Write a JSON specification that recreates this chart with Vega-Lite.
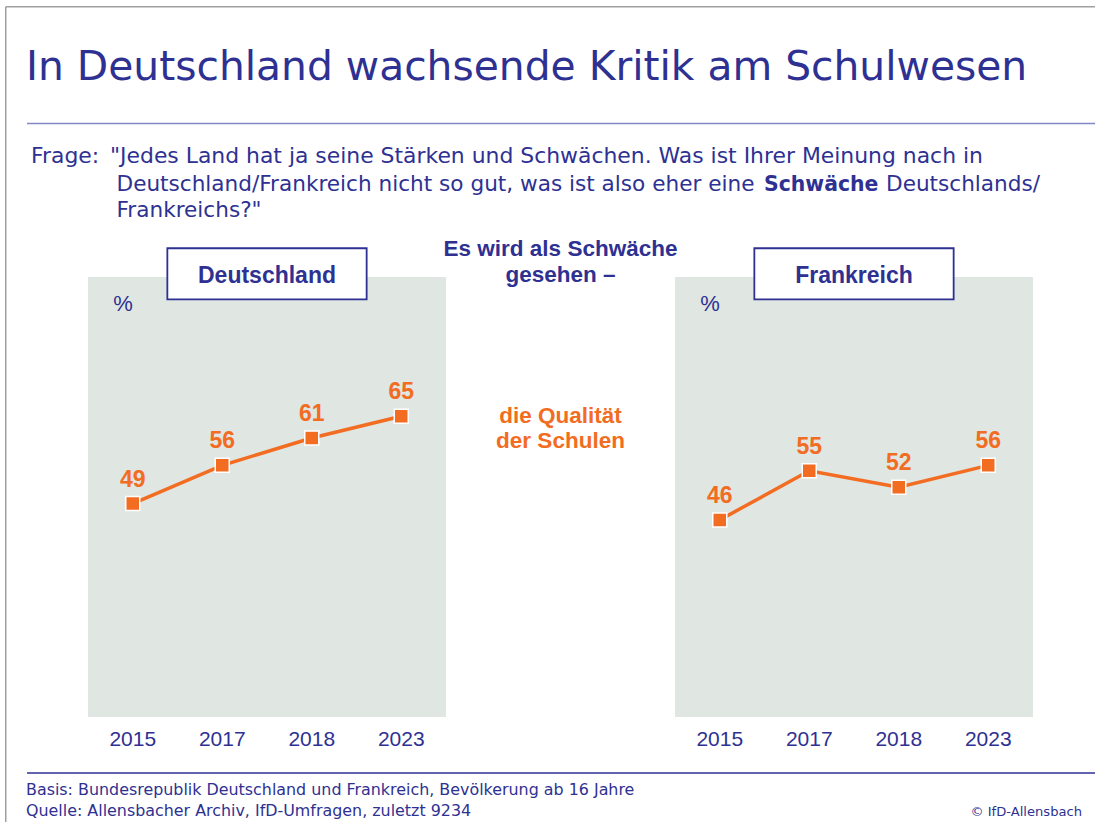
{
  "$schema": "https://vega.github.io/schema/vega-lite/v6.json",
  "background": "white",
  "padding": {"left": 5, "top": 6, "right": 0, "bottom": 0},
  "bounds": "flush",
  "spacing": 0,
  "config": {"view": {"stroke": null}, "font": "Liberation Sans"},
  "datasets": {
    "survey": [
      {"country": "Deutschland", "year": "2015", "value": 49},
      {"country": "Deutschland", "year": "2017", "value": 56},
      {"country": "Deutschland", "year": "2018", "value": 61},
      {"country": "Deutschland", "year": "2023", "value": 65},
      {"country": "Frankreich", "year": "2015", "value": 46},
      {"country": "Frankreich", "year": "2017", "value": 55},
      {"country": "Frankreich", "year": "2018", "value": 52},
      {"country": "Frankreich", "year": "2023", "value": 56}
    ]
  },
  "hconcat": [
    {
      "width": 83,
      "height": 816,
      "data": {"values": [{}]},
      "layer": [
        {
          "mark": {"type": "rule", "color": "#A0A0A0", "strokeWidth": 1.5},
          "encoding": {
            "x": {"datum": 5.75, "type": "quantitative", "scale": {"domain": [5, 88], "nice": false, "zero": false}, "axis": null},
            "x2": {"datum": 1095},
            "y": {"datum": 6.75, "type": "quantitative", "scale": {"domain": [6, 822], "nice": false, "zero": false, "reverse": true}, "axis": null}
          }
        },
        {
          "mark": {"type": "rule", "color": "#A0A0A0", "strokeWidth": 1.5},
          "encoding": {
            "x": {"datum": 5.75, "type": "quantitative", "scale": {"domain": [5, 88], "nice": false, "zero": false}, "axis": null},
            "y": {"datum": 6.75, "type": "quantitative", "scale": {"domain": [6, 822], "nice": false, "zero": false, "reverse": true}, "axis": null},
            "y2": {"datum": 822}
          }
        },
        {
          "mark": {"type": "text", "text": "In Deutschland wachsende Kritik am Schulwesen", "align": "left", "baseline": "alphabetic", "font": "DejaVu Sans", "fontSize": 40.8, "color": "#2E3192"},
          "encoding": {
            "x": {"datum": 26, "type": "quantitative", "scale": {"domain": [5, 88], "nice": false, "zero": false}, "axis": null},
            "y": {"datum": 79.5, "type": "quantitative", "scale": {"domain": [6, 822], "nice": false, "zero": false, "reverse": true}, "axis": null}
          }
        },
        {
          "mark": {"type": "rule", "color": "#8487C6", "strokeWidth": 1.5},
          "encoding": {
            "x": {"datum": 27, "type": "quantitative", "scale": {"domain": [5, 88], "nice": false, "zero": false}, "axis": null},
            "x2": {"datum": 1095},
            "y": {"datum": 123.5, "type": "quantitative", "scale": {"domain": [6, 822], "nice": false, "zero": false, "reverse": true}, "axis": null}
          }
        },
        {
          "mark": {"type": "text", "text": "Frage:", "align": "left", "baseline": "alphabetic", "font": "DejaVu Sans", "fontSize": 21.9, "color": "#2E3192"},
          "encoding": {
            "x": {"datum": 31, "type": "quantitative", "scale": {"domain": [5, 88], "nice": false, "zero": false}, "axis": null},
            "y": {"datum": 163, "type": "quantitative", "scale": {"domain": [6, 822], "nice": false, "zero": false, "reverse": true}, "axis": null}
          }
        },
        {
          "mark": {"type": "text", "text": "\"Jedes Land hat ja seine Stärken und Schwächen. Was ist Ihrer Meinung nach in", "align": "left", "baseline": "alphabetic", "font": "DejaVu Sans", "fontSize": 21.9, "color": "#2E3192"},
          "encoding": {
            "x": {"datum": 110, "type": "quantitative", "scale": {"domain": [5, 88], "nice": false, "zero": false}, "axis": null},
            "y": {"datum": 163, "type": "quantitative", "scale": {"domain": [6, 822], "nice": false, "zero": false, "reverse": true}, "axis": null}
          }
        },
        {
          "mark": {"type": "text", "text": "Deutschland/Frankreich nicht so gut, was ist also eher eine", "align": "left", "baseline": "alphabetic", "font": "DejaVu Sans", "fontSize": 21.6, "color": "#2E3192"},
          "encoding": {
            "x": {"datum": 116.5, "type": "quantitative", "scale": {"domain": [5, 88], "nice": false, "zero": false}, "axis": null},
            "y": {"datum": 190.5, "type": "quantitative", "scale": {"domain": [6, 822], "nice": false, "zero": false, "reverse": true}, "axis": null}
          }
        },
        {
          "mark": {"type": "text", "text": "Schwäche", "align": "left", "baseline": "alphabetic", "font": "DejaVu Sans", "fontWeight": "bold", "fontSize": 20.4, "color": "#2E3192"},
          "encoding": {
            "x": {"datum": 764, "type": "quantitative", "scale": {"domain": [5, 88], "nice": false, "zero": false}, "axis": null},
            "y": {"datum": 190.5, "type": "quantitative", "scale": {"domain": [6, 822], "nice": false, "zero": false, "reverse": true}, "axis": null}
          }
        },
        {
          "mark": {"type": "text", "text": "Deutschlands/", "align": "left", "baseline": "alphabetic", "font": "DejaVu Sans", "fontSize": 21.6, "color": "#2E3192"},
          "encoding": {
            "x": {"datum": 886, "type": "quantitative", "scale": {"domain": [5, 88], "nice": false, "zero": false}, "axis": null},
            "y": {"datum": 190.5, "type": "quantitative", "scale": {"domain": [6, 822], "nice": false, "zero": false, "reverse": true}, "axis": null}
          }
        },
        {
          "mark": {"type": "text", "text": "Frankreichs?\"", "align": "left", "baseline": "alphabetic", "font": "DejaVu Sans", "fontSize": 21.6, "color": "#2E3192"},
          "encoding": {
            "x": {"datum": 116.5, "type": "quantitative", "scale": {"domain": [5, 88], "nice": false, "zero": false}, "axis": null},
            "y": {"datum": 217, "type": "quantitative", "scale": {"domain": [6, 822], "nice": false, "zero": false, "reverse": true}, "axis": null}
          }
        },
        {
          "mark": {"type": "rule", "color": "#2E3192", "strokeWidth": 1.5},
          "encoding": {
            "x": {"datum": 27, "type": "quantitative", "scale": {"domain": [5, 88], "nice": false, "zero": false}, "axis": null},
            "x2": {"datum": 1095},
            "y": {"datum": 773, "type": "quantitative", "scale": {"domain": [6, 822], "nice": false, "zero": false, "reverse": true}, "axis": null}
          }
        },
        {
          "mark": {"type": "text", "text": "Basis: Bundesrepublik Deutschland und Frankreich, Bevölkerung ab 16 Jahre", "align": "left", "baseline": "alphabetic", "font": "DejaVu Sans", "fontSize": 15.9, "color": "#2E3192"},
          "encoding": {
            "x": {"datum": 26, "type": "quantitative", "scale": {"domain": [5, 88], "nice": false, "zero": false}, "axis": null},
            "y": {"datum": 795, "type": "quantitative", "scale": {"domain": [6, 822], "nice": false, "zero": false, "reverse": true}, "axis": null}
          }
        },
        {
          "mark": {"type": "text", "text": "Quelle: Allensbacher Archiv, IfD-Umfragen, zuletzt 9234", "align": "left", "baseline": "alphabetic", "font": "DejaVu Sans", "fontSize": 15.9, "color": "#2E3192"},
          "encoding": {
            "x": {"datum": 26, "type": "quantitative", "scale": {"domain": [5, 88], "nice": false, "zero": false}, "axis": null},
            "y": {"datum": 816, "type": "quantitative", "scale": {"domain": [6, 822], "nice": false, "zero": false, "reverse": true}, "axis": null}
          }
        },
        {
          "mark": {"type": "text", "text": "© IfD-Allensbach", "align": "right", "baseline": "alphabetic", "font": "DejaVu Sans", "fontSize": 13.1, "color": "#2E3192"},
          "encoding": {
            "x": {"datum": 1082, "type": "quantitative", "scale": {"domain": [5, 88], "nice": false, "zero": false}, "axis": null},
            "y": {"datum": 816, "type": "quantitative", "scale": {"domain": [6, 822], "nice": false, "zero": false, "reverse": true}, "axis": null}
          }
        }
      ]
    },
    {
      "width": 358,
      "height": 816,
      "data": {"name": "survey"},
      "transform": [{"filter": "datum.country === 'Deutschland'"}],
      "layer": [
        {
          "data": {"values": [{"country": "Deutschland"}]},
          "mark": {"type": "rect", "color": "#E0E6E2"},
          "encoding": {
            "y": {"datum": 9.9, "type": "quantitative", "scale": {"domain": [-9.334, 140.142], "nice": false, "zero": false}, "axis": null},
            "y2": {"datum": 90.5}
          }
        },
        {
          "data": {"values": [{"unit": "%"}]},
          "mark": {"type": "text", "font": "Liberation Sans", "fontSize": 22, "color": "#2E3192", "align": "left", "baseline": "alphabetic", "dx": -19.5},
          "encoding": {
            "x": {"datum": "2015", "type": "ordinal", "scale": {"type": "point", "padding": 0.5}, "axis": null},
            "y": {"datum": 84.27, "type": "quantitative", "scale": {"domain": [-9.334, 140.142], "nice": false, "zero": false}, "axis": null},
            "text": {"field": "unit", "type": "nominal"}
          }
        },
        {
          "mark": {"type": "line", "color": "#F26C22", "strokeWidth": 3.5},
          "encoding": {
            "x": {"field": "year", "type": "ordinal", "scale": {"type": "point", "padding": 0.5}, "axis": null},
            "y": {"field": "value", "type": "quantitative", "scale": {"domain": [-9.334, 140.142], "nice": false, "zero": false}, "axis": null}
          }
        },
        {
          "mark": {"type": "point", "shape": "square", "size": 196, "filled": true, "fill": "#F26C22", "stroke": "white", "strokeWidth": 1.5, "opacity": 1},
          "encoding": {
            "x": {"field": "year", "type": "ordinal", "scale": {"type": "point", "padding": 0.5}, "axis": null},
            "y": {"field": "value", "type": "quantitative", "scale": {"domain": [-9.334, 140.142], "nice": false, "zero": false}, "axis": null}
          }
        },
        {
          "mark": {"type": "text", "font": "Liberation Sans", "fontSize": 23, "fontWeight": "bold", "color": "#F26C22", "baseline": "alphabetic", "dy": -17},
          "encoding": {
            "x": {"field": "year", "type": "ordinal", "scale": {"type": "point", "padding": 0.5}, "axis": null},
            "y": {"field": "value", "type": "quantitative", "scale": {"domain": [-9.334, 140.142], "nice": false, "zero": false}, "axis": null},
            "text": {"field": "value", "type": "quantitative"}
          }
        },
        {
          "mark": {"type": "text", "font": "Liberation Sans", "fontSize": 21, "color": "#2E3192", "baseline": "alphabetic", "dy": 29},
          "encoding": {
            "x": {"field": "year", "type": "ordinal", "scale": {"type": "point", "padding": 0.5}, "axis": null},
            "y": {"datum": 9.9, "type": "quantitative", "scale": {"domain": [-9.334, 140.142], "nice": false, "zero": false}, "axis": null},
            "text": {"field": "year", "type": "nominal"}
          }
        },
        {
          "data": {"values": [{"country": "Deutschland"}]},
          "mark": {"type": "point", "shape": "M-1,-0.256H1V0.256H-1Z", "size": 39720, "filled": true, "fill": "white", "stroke": "#2E3192", "strokeWidth": 1.8, "opacity": 1},
          "encoding": {
            "y": {"datum": 91.09, "type": "quantitative", "scale": {"domain": [-9.334, 140.142], "nice": false, "zero": false}, "axis": null}
          }
        },
        {
          "data": {"values": [{"country": "Deutschland"}]},
          "mark": {"type": "text", "font": "Liberation Sans", "fontSize": 23, "fontWeight": "bold", "color": "#2E3192", "baseline": "alphabetic"},
          "encoding": {
            "y": {"datum": 89.35, "type": "quantitative", "scale": {"domain": [-9.334, 140.142], "nice": false, "zero": false}, "axis": null},
            "text": {"field": "country", "type": "nominal"}
          }
        }
      ]
    },
    {
      "width": 229,
      "height": 816,
      "data": {"values": [{}]},
      "layer": [
        {
          "mark": {"type": "text", "text": ["Es wird als Schwäche", "gesehen –"], "font": "Liberation Sans", "fontSize": 22.5, "fontWeight": "bold", "color": "#2E3192", "baseline": "alphabetic", "lineHeight": 26.5},
          "encoding": {
            "y": {"datum": 94.4, "type": "quantitative", "scale": {"domain": [-9.334, 140.142], "nice": false, "zero": false}, "axis": null}
          }
        },
        {
          "mark": {"type": "text", "text": ["die Qualität", "der Schulen"], "font": "Liberation Sans", "fontSize": 22.5, "fontWeight": "bold", "color": "#F26C22", "baseline": "alphabetic", "lineHeight": 25.6},
          "encoding": {
            "y": {"datum": 63.81, "type": "quantitative", "scale": {"domain": [-9.334, 140.142], "nice": false, "zero": false}, "axis": null}
          }
        }
      ]
    },
    {
      "width": 358,
      "height": 816,
      "data": {"name": "survey"},
      "transform": [{"filter": "datum.country === 'Frankreich'"}],
      "layer": [
        {
          "data": {"values": [{"country": "Frankreich"}]},
          "mark": {"type": "rect", "color": "#E0E6E2"},
          "encoding": {
            "y": {"datum": 9.9, "type": "quantitative", "scale": {"domain": [-9.334, 140.142], "nice": false, "zero": false}, "axis": null},
            "y2": {"datum": 90.5}
          }
        },
        {
          "data": {"values": [{"unit": "%"}]},
          "mark": {"type": "text", "font": "Liberation Sans", "fontSize": 22, "color": "#2E3192", "align": "left", "baseline": "alphabetic", "dx": -19.5},
          "encoding": {
            "x": {"datum": "2015", "type": "ordinal", "scale": {"type": "point", "padding": 0.5}, "axis": null},
            "y": {"datum": 84.27, "type": "quantitative", "scale": {"domain": [-9.334, 140.142], "nice": false, "zero": false}, "axis": null},
            "text": {"field": "unit", "type": "nominal"}
          }
        },
        {
          "mark": {"type": "line", "color": "#F26C22", "strokeWidth": 3.5},
          "encoding": {
            "x": {"field": "year", "type": "ordinal", "scale": {"type": "point", "padding": 0.5}, "axis": null},
            "y": {"field": "value", "type": "quantitative", "scale": {"domain": [-9.334, 140.142], "nice": false, "zero": false}, "axis": null}
          }
        },
        {
          "mark": {"type": "point", "shape": "square", "size": 196, "filled": true, "fill": "#F26C22", "stroke": "white", "strokeWidth": 1.5, "opacity": 1},
          "encoding": {
            "x": {"field": "year", "type": "ordinal", "scale": {"type": "point", "padding": 0.5}, "axis": null},
            "y": {"field": "value", "type": "quantitative", "scale": {"domain": [-9.334, 140.142], "nice": false, "zero": false}, "axis": null}
          }
        },
        {
          "mark": {"type": "text", "font": "Liberation Sans", "fontSize": 23, "fontWeight": "bold", "color": "#F26C22", "baseline": "alphabetic", "dy": -17},
          "encoding": {
            "x": {"field": "year", "type": "ordinal", "scale": {"type": "point", "padding": 0.5}, "axis": null},
            "y": {"field": "value", "type": "quantitative", "scale": {"domain": [-9.334, 140.142], "nice": false, "zero": false}, "axis": null},
            "text": {"field": "value", "type": "quantitative"}
          }
        },
        {
          "mark": {"type": "text", "font": "Liberation Sans", "fontSize": 21, "color": "#2E3192", "baseline": "alphabetic", "dy": 29},
          "encoding": {
            "x": {"field": "year", "type": "ordinal", "scale": {"type": "point", "padding": 0.5}, "axis": null},
            "y": {"datum": 9.9, "type": "quantitative", "scale": {"domain": [-9.334, 140.142], "nice": false, "zero": false}, "axis": null},
            "text": {"field": "year", "type": "nominal"}
          }
        },
        {
          "data": {"values": [{"country": "Frankreich"}]},
          "mark": {"type": "point", "shape": "M-1,-0.256H1V0.256H-1Z", "size": 39720, "filled": true, "fill": "white", "stroke": "#2E3192", "strokeWidth": 1.8, "opacity": 1},
          "encoding": {
            "y": {"datum": 91.09, "type": "quantitative", "scale": {"domain": [-9.334, 140.142], "nice": false, "zero": false}, "axis": null}
          }
        },
        {
          "data": {"values": [{"country": "Frankreich"}]},
          "mark": {"type": "text", "font": "Liberation Sans", "fontSize": 23, "fontWeight": "bold", "color": "#2E3192", "baseline": "alphabetic"},
          "encoding": {
            "y": {"datum": 89.35, "type": "quantitative", "scale": {"domain": [-9.334, 140.142], "nice": false, "zero": false}, "axis": null},
            "text": {"field": "country", "type": "nominal"}
          }
        }
      ]
    }
  ]
}
